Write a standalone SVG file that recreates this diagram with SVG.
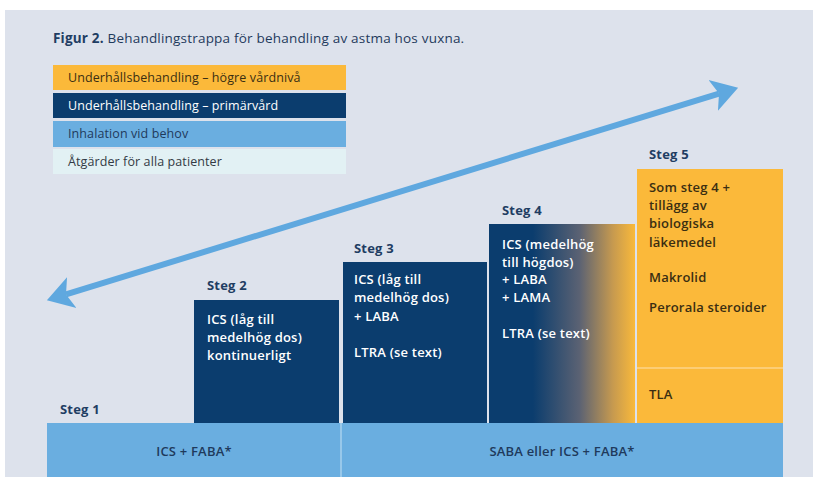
<svg xmlns="http://www.w3.org/2000/svg" width="813" height="477" viewBox="0 0 813 477">
<style>
  text { font-family: "Open Sans", "Liberation Sans", sans-serif; font-size: 13px; font-weight: 600; letter-spacing: 0.2px; }
  .leg { font-size: 12.5px; font-weight: 500; letter-spacing: 0.1px; }
  .lbl { font-weight: 700; fill: #1f3d63; }
  .wt { fill: #ffffff; }
  .dk { fill: #3a2e12; }
  .nv { fill: #1f3a5c; }
  .navy { fill: #0b3d6e; }
  .orange { fill: #fbb93a; }
  .sky { fill: #6aaee0; }
</style>
<defs>
  <linearGradient id="g4" x1="0" y1="0" x2="1" y2="0">
    <stop offset="0" stop-color="#0b3d6e"/>
    <stop offset="0.3" stop-color="#0b3d6e"/>
    <stop offset="0.62" stop-color="#5b6273"/>
    <stop offset="0.85" stop-color="#c79a4f"/>
    <stop offset="1" stop-color="#f9b93b"/>
  </linearGradient>
  <marker id="ah" markerUnits="userSpaceOnUse" markerWidth="28" markerHeight="34" viewBox="0 0 28 34" refX="6" refY="17" orient="auto-start-reverse">
    <path d="M0,1 L26,17 L0,33 L6,17 z" fill="#5fa8df"/>
  </marker>
</defs>
<rect x="0" y="0" width="813" height="477" fill="#ffffff"/>
<rect x="5" y="10" width="808" height="467" fill="#dde2ec"/>

<text x="53" y="43" class="nv" style="font-size:13.5px;font-weight:500"><tspan font-weight="700" fill="#1f3d63">Figur 2.</tspan> Behandlingstrappa för behandling av astma hos vuxna.</text>

<g id="legend">
  <g id="leg-hogre"><rect x="53" y="65" width="293" height="25" class="orange"/><text x="68" y="82" class="dk leg">Underhållsbehandling – högre vårdnivå</text></g>
  <g id="leg-primar"><rect x="53" y="93" width="293" height="25" class="navy"/><text x="68" y="110" class="wt leg">Underhållsbehandling – primärvård</text></g>
  <g id="leg-inhal"><rect x="53" y="121" width="293" height="26" class="sky"/><text x="68" y="138" class="nv leg">Inhalation vid behov</text></g>
  <g id="leg-alla"><rect x="53" y="149" width="293" height="25" fill="#e2f1f4"/><text x="68" y="166" fill="#333a44" class="leg">Åtgärder för alla patienter</text></g>
</g>

<g id="connectors">
  <line x1="66" y1="294.4" x2="719" y2="93.6" stroke="#5fa8df" stroke-width="6" marker-start="url(#ah)" marker-end="url(#ah)"/>
</g>

<g id="base">
  <rect x="47" y="423" width="736" height="54" class="sky"/>
  <line x1="341" y1="423" x2="341" y2="477" stroke="#a9d0ee" stroke-width="1.5"/>
  <text x="194" y="456" class="nv" text-anchor="middle">ICS + FABA*</text>
  <text x="562" y="456" class="nv" text-anchor="middle">SABA eller ICS + FABA*</text>
</g>

<g id="steg1">
  <text x="60" y="414" class="lbl">Steg 1</text>
</g>

<g id="steg2">
  <text x="207" y="290" class="lbl">Steg 2</text>
  <rect x="194" y="300" width="145" height="123" class="navy"/>
  <text class="wt"><tspan x="207" y="324">ICS (låg till</tspan><tspan x="207" y="342">medelhög dos)</tspan><tspan x="207" y="360">kontinuerligt</tspan></text>
</g>

<g id="steg3">
  <text x="354" y="253" class="lbl">Steg 3</text>
  <rect x="343" y="262" width="144" height="161" class="navy"/>
  <text class="wt"><tspan x="354" y="284">ICS (låg till</tspan><tspan x="354" y="302">medelhög dos)</tspan><tspan x="354" y="321">+ LABA</tspan><tspan x="354" y="357">LTRA (se text)</tspan></text>
</g>

<g id="steg4">
  <text x="502" y="215" class="lbl">Steg 4</text>
  <rect x="489" y="224" width="146" height="199" fill="url(#g4)"/>
  <text class="wt"><tspan x="502" y="249">ICS (medelhög</tspan><tspan x="502" y="267">till högdos)</tspan><tspan x="502" y="284">+ LABA</tspan><tspan x="502" y="302">+ LAMA</tspan><tspan x="502" y="338">LTRA (se text)</tspan></text>
</g>

<g id="steg5">
  <text x="649" y="159" class="lbl">Steg 5</text>
  <rect x="637" y="169" width="146" height="254" class="orange"/>
  <line x1="637" y1="368" x2="783" y2="368" stroke="#fcd58a" stroke-width="1.5"/>
  <text class="dk"><tspan x="649" y="192">Som steg 4 +</tspan><tspan x="649" y="210">tillägg av</tspan><tspan x="649" y="228">biologiska</tspan><tspan x="649" y="247">läkemedel</tspan><tspan x="649" y="282">Makrolid</tspan><tspan x="649" y="312">Perorala steroider</tspan><tspan x="649" y="399">TLA</tspan></text>
</g>
</svg>
